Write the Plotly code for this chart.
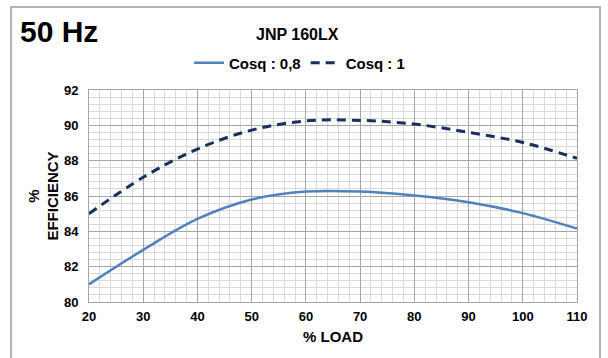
import plotly.graph_objects as go

load = [20, 30, 40, 50, 60, 70, 80, 90, 100, 110]
eff_cos08 = [81.0, 82.95, 84.7, 85.8, 86.25, 86.25, 86.03, 85.65, 85.03, 84.15]
eff_cos1 = [85.0, 87.06, 88.66, 89.73, 90.25, 90.28, 90.07, 89.6, 89.03, 88.13]
x_ticks = [20, 30, 40, 50, 60, 70, 80, 90, 100, 110]
y_ticks = [80, 82, 84, 86, 88, 90, 92]

FONT = "Liberation Sans, Arial, sans-serif"

fig = go.Figure()
fig.add_trace(go.Scatter(
    x=load, y=eff_cos08, mode="lines", name="Cosq : 0,8",
    line=dict(color="#4f81bd", width=2.5, shape="spline", smoothing=1.0),
))
fig.add_trace(go.Scatter(
    x=load, y=eff_cos1, mode="lines", name="Cosq : 1",
    line=dict(color="#1b2f5e", width=3, dash="9px,6px", shape="spline", smoothing=1.0),
))

L, R, T, B = 89, 31, 90, 56
W, H = 608, 358
pw, ph = W - L - R, H - T - B

def px(xp):
    return (xp - L) / pw

def py(yp):
    return (H - B - yp) / ph

fig.update_layout(
    width=W, height=H,
    margin=dict(l=L, r=R, t=T, b=B, autoexpand=False),
    paper_bgcolor="white", plot_bgcolor="white",
    font=dict(family=FONT, color="black"),
    showlegend=True,
    legend=dict(
        orientation="h", x=px(189), y=py(63), xanchor="left", yanchor="middle",
        font=dict(size=15, weight="bold", family=FONT),
        bgcolor="rgba(0,0,0,0)", itemwidth=30, tracegroupgap=0,
    ),
    xaxis=dict(
        range=[20, 110], tickvals=x_ticks, ticks="", showline=True,
        linecolor="#a6a6a6", linewidth=1, mirror=True,
        showgrid=True, gridcolor="#a6a6a6", gridwidth=1, zeroline=False,
        minor=dict(dtick=2, showgrid=True, gridcolor="#d9d9d9", gridwidth=1),
        tickfont=dict(size=13, weight="bold", family=FONT),
        ticklabelstandoff=2,
        title=dict(text="% LOAD", font=dict(size=15, weight="bold", family=FONT), standoff=8),
    ),
    yaxis=dict(
        range=[80, 92], tickvals=y_ticks, ticks="", showline=True,
        linecolor="#a6a6a6", linewidth=1, mirror=True,
        showgrid=True, gridcolor="#a6a6a6", gridwidth=1, zeroline=False,
        minor=dict(dtick=0.4, showgrid=True, gridcolor="#d9d9d9", gridwidth=1),
        tickfont=dict(size=13, weight="bold", family=FONT),
        ticklabelstandoff=7,
        title=dict(text="%<br>EFFICIENCY", font=dict(size=15, weight="bold", family=FONT), standoff=1),
    ),
    annotations=[
        dict(text="50 Hz", xref="paper", yref="paper", x=px(18), y=py(32),
             xanchor="left", yanchor="middle", showarrow=False,
             font=dict(size=30, weight="bold", family=FONT)),
        dict(text="JNP 160LX", xref="paper", yref="paper", x=px(297), y=py(34),
             xanchor="center", yanchor="middle", showarrow=False,
             font=dict(size=16, weight="bold", family=FONT)),
    ],
    shapes=[
        dict(type="rect", xref="paper", yref="paper",
             x0=px(11), x1=px(600), y0=py(365), y1=py(7),
             line=dict(color="#b3b3b3", width=2), fillcolor="rgba(0,0,0,0)", layer="below"),
    ],
)

fig.write_html(
    "out.html",
    config={"displayModeBar": False},
    post_script="document.body.style.margin='0';document.body.style.overflow='hidden';",
)
